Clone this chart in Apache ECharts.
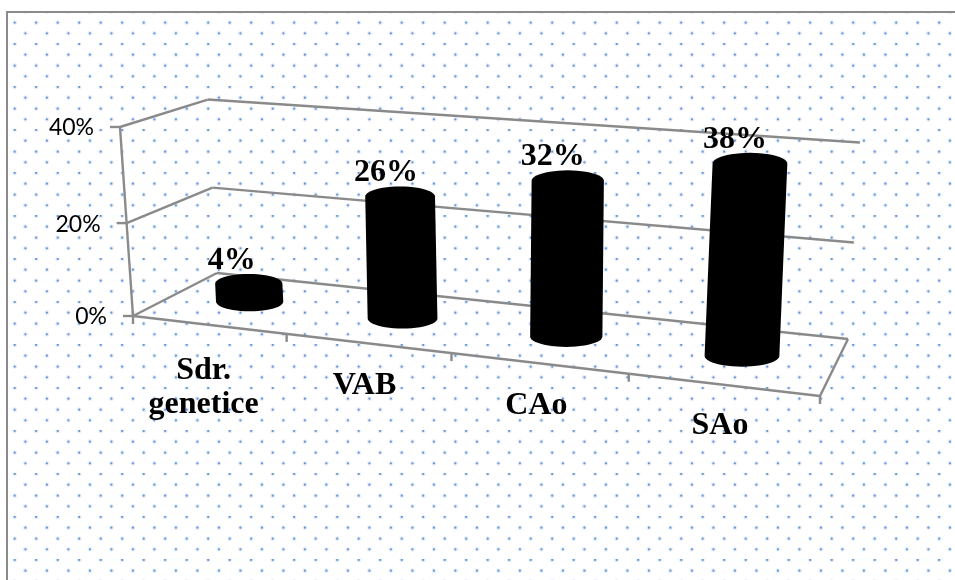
<!DOCTYPE html>
<html>
<head>
<meta charset="utf-8">
<style>html,body{margin:0;padding:0;background:#fff}#chart{width:955px;height:580px}</style>
<script src="https://cdn.jsdelivr.net/npm/echarts@6/dist/echarts.min.js"></script>
</head>
<body>
<div id="chart"></div>
<script>
// Categories and percentages of the cylinder chart
const categories = ['Sdr.\ngenetice', 'VAB', 'CAo', 'SAo'];
const values = [4, 26, 32, 38];
const valueTicks = [0, 20, 40];
const valueMax = 40;

// Value axis is laid out so its ticks coincide with the left wall edge
const grid = { left: 98, top: 127, width: 740, height: 189 };

// Floor quadrilateral and the vertical vanishing point of the 3D box
const floor = { fl: [133, 316], fr: [820, 396], br: [848, 339], bl: [217, 273] };
const vertical = [514, 5852];
const topFrontY = 127;

// Unit square to floor homography
const H = (function () {
  const [x0, y0] = floor.fl, [x1, y1] = floor.fr, [x2, y2] = floor.br, [x3, y3] = floor.bl;
  const dx1 = x1 - x2, dx2 = x3 - x2, sx = x0 - x1 + x2 - x3;
  const dy1 = y1 - y2, dy2 = y3 - y2, sy = y0 - y1 + y2 - y3;
  const den = dx1 * dy2 - dx2 * dy1;
  const g = (sx * dy2 - dx2 * sy) / den, h = (dx1 * sy - sx * dy1) / den;
  return { a: x1 - x0 + g * x1, b: x3 - x0 + h * x3, c: x0, d: y1 - y0 + g * y1, e: y3 - y0 + h * y3, f: y0, g, h };
})();
const k = (topFrontY - floor.fl[1]) / (vertical[1] - topFrontY) / valueMax;

// u: along the categories, w: depth, v: value
function project(u, w, v) {
  const X = H.a * u + H.b * w + H.c + k * v * vertical[0];
  const Y = H.d * u + H.e * w + H.f + k * v * vertical[1];
  const W = H.g * u + H.h * w + 1 + k * v;
  return [X / W, Y / W];
}

// Position along the category axis, taken from the chart's own x scale
function uOf(api, index) {
  return (api.coord([index, 0])[0] - grid.left) / grid.width;
}
// Value in axis units, read back through the y scale
function vOf(api, value) {
  return (grid.top + grid.height - api.coord([0, value])[1]) / grid.height * valueMax;
}

const lineStyle = { stroke: '#8a8a8a', lineWidth: 2.4, fill: null };
const seg = (a, b) => ({ type: 'line', shape: { x1: a[0], y1: a[1], x2: b[0], y2: b[1] }, style: lineStyle });
const bold = { fontFamily: 'Liberation Serif', fontWeight: 'bold', fontSize: 32, fill: '#000', align: 'center', verticalAlign: 'middle', lineHeight: 34 };

// Walls, floor, tick marks and value labels of the box
function renderFrame(params, api) {
  const children = [];
  valueTicks.forEach(function (t) {
    const v = vOf(api, t);
    const a = project(0, 0, v), b = project(0, 1, v), c = project(1, 1, v);
    children.push(seg(a, b), seg(b, c), seg([a[0] - 10, a[1]], a));
    children.push({
      type: 'text',
      style: { x: a[0] - 26, y: a[1] + 1, text: t + '%', fontFamily: 'Lato', fontSize: 23, fill: '#000', align: 'right', verticalAlign: 'middle' }
    });
  });
  const vTop = vOf(api, valueMax);
  children.push(seg(project(0, 0, 0), project(0, 0, vTop)));
  children.push(seg(project(0, 0, 0), project(1, 0, 0)));
  children.push(seg(project(1, 0, 0), project(1, 1, 0)));
  for (let i = 0; i <= categories.length; i++) {
    const p = project(i / categories.length, 0, 0);
    children.push(seg(p, [p[0], p[1] + 8]));
  }
  return { type: 'group', children };
}

// One cylinder, with its value label and category label
const labelOffset = [[-17, -23], [-14, -24], [-15, -24], [-15, -24]];
const nameOffset = [[-46, 86], [-38, 67], [-30, 69], [-22, 70]];
function renderBar(params, api) {
  const i = api.value(0);
  const value = api.value(1);
  const u = uOf(api, i), v = vOf(api, value);
  const wc = 0.5;
  const rx = 33 + 5 * u, ry = rx * 0.29;
  const bottom = project(u, wc, 0);
  const top = project(u, wc, v);
  const points = [];
  // Upper half of the cap, then lower half of the base, joined by the sides
  for (let n = 0; n <= 24; n++) {
    const t = Math.PI + n / 24 * Math.PI;
    points.push([top[0] + rx * Math.cos(t), top[1] + ry * Math.sin(t)]);
  }
  for (let n = 0; n <= 24; n++) {
    const t = n / 24 * Math.PI;
    points.push([bottom[0] + rx * Math.cos(t), bottom[1] + ry * Math.sin(t)]);
  }
  return {
    type: 'group',
    children: [
      { type: 'polygon', shape: { points }, style: { fill: '#000' } },
      { type: 'text', style: Object.assign({ x: top[0] + labelOffset[i][0], y: top[1] + labelOffset[i][1], text: value + '%' }, bold) },
      { type: 'text', style: Object.assign({ x: bottom[0] + nameOffset[i][0], y: bottom[1] + nameOffset[i][1], text: categories[i] }, bold) }
    ]
  };
}

// Dotted paper: staggered rows that repeat every 43 px
const tile = document.createElement('canvas');
tile.width = tile.height = 43;
(function () {
  const ctx = tile.getContext('2d');
  const dots = [[14.7, 22.7], [36.2, 22.7], [3.9, 33.3], [25.4, 33.3], [14.7, 0.9], [36.2, 0.9], [3.9, 11.7], [25.4, 11.7]];
  dots.forEach(function (d) {
    ctx.fillStyle = 'rgba(165,200,240,0.3)';
    ctx.beginPath(); ctx.arc(d[0], d[1], 2.4, 0, Math.PI * 2); ctx.fill();
    ctx.fillStyle = '#6595d4';
    ctx.beginPath(); ctx.arc(d[0], d[1], 1.1, 0, Math.PI * 2); ctx.fill();
  });
})();

const chart = echarts.init(document.getElementById('chart'), null, { renderer: 'canvas' });
chart.setOption({
  animation: false,
  backgroundColor: '#fff',
  grid: grid,
  xAxis: { type: 'category', data: categories, show: false },
  yAxis: { type: 'value', min: 0, max: valueMax, interval: 20, show: false },
  graphic: [
    { type: 'rect', z: -10, silent: true, shape: { x: 7, y: 12, width: 948, height: 568 }, style: { fill: { image: tile, repeat: 'repeat' } } },
    { type: 'polyline', z: -9, silent: true, shape: { points: [[7, 580], [7, 12], [955, 12]] }, style: { stroke: '#8a8a8a', lineWidth: 2, fill: null } }
  ],
  series: [
    {
      type: 'custom', coordinateSystem: 'cartesian2d', silent: true, z: 1,
      data: [[0, 0]], renderItem: renderFrame, encode: { x: 0, y: 1 }
    },
    {
      type: 'custom', coordinateSystem: 'cartesian2d', silent: true, z: 2,
      data: values.map(function (v, i) { return [i, v]; }), renderItem: renderBar, encode: { x: 0, y: 1 }
    }
  ]
});
</script>
</body>
</html>
